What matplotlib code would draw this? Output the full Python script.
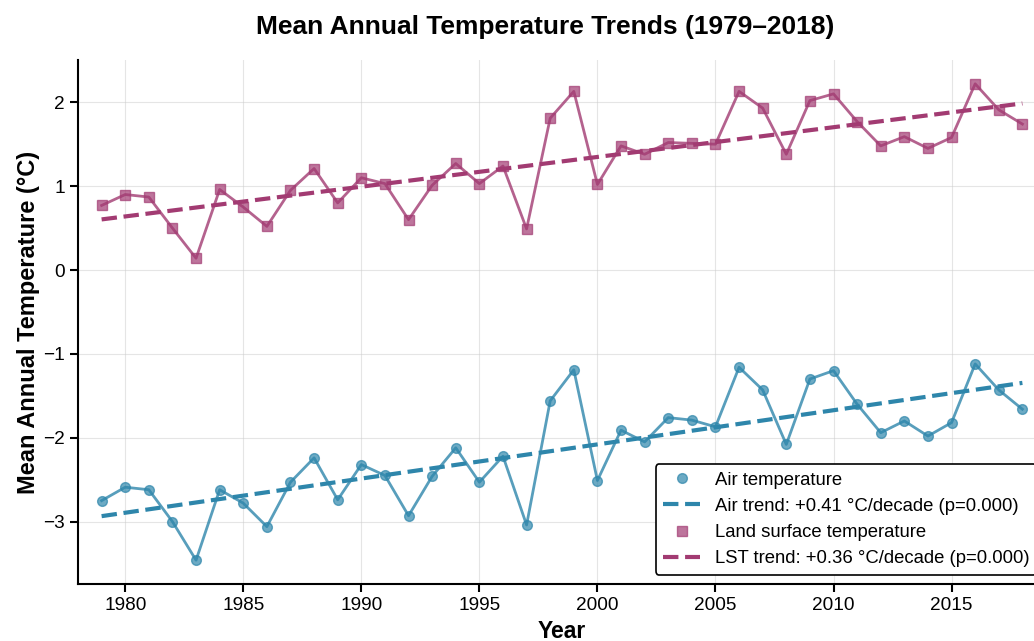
import numpy as np
import matplotlib
matplotlib.use('Agg')
import matplotlib.pyplot as plt

years = list(range(1979, 2019))

air_temp = [-2.75, -2.59, -2.62, -3.00, -3.46, -2.62, -2.78, -3.06, -2.53, -2.24,
            -2.74, -2.32, -2.45, -2.93, -2.46, -2.12, -2.53, -2.22, -3.04, -1.56,
            -1.19, -2.51, -1.91, -2.05, -1.76, -1.79, -1.87, -1.16, -1.43, -2.08,
            -1.30, -1.20, -1.60, -1.94, -1.80, -1.98, -1.82, -1.12, -1.43, -1.66]

lst_temp = [0.77, 0.90, 0.87, 0.50, 0.14, 0.96, 0.75, 0.52, 0.95, 1.21,
            0.80, 1.10, 1.03, 0.60, 1.01, 1.27, 1.03, 1.24, 0.49, 1.81,
            2.13, 1.02, 1.48, 1.38, 1.52, 1.51, 1.50, 2.13, 1.93, 1.38,
            2.02, 2.10, 1.77, 1.48, 1.59, 1.45, 1.58, 2.22, 1.91, 1.74]

air_trend_label = 'Air trend: +0.41 °C/decade (p=0.000)'
lst_trend_label = 'LST trend: +0.36 °C/decade (p=0.000)'

AIR_COLOR = '#2E86AB'
LST_COLOR = '#A23B72'

plt.rcParams['font.family'] = ['Liberation Sans', 'DejaVu Sans']


def draw_trends():
    """Air and land surface temperature with linear trends."""
    x = np.array(years)
    fig = plt.figure(figsize=(10.34, 6.41), dpi=100)
    ax = fig.add_axes([78 / 1034, 57 / 641, 968 / 1034, 524 / 641])

    # air temperature
    ax.plot(x, air_temp, '-', color=AIR_COLOR, lw=2, alpha=0.8)
    ax.plot(x, air_temp, 'o', color=AIR_COLOR, ms=7, alpha=0.7,
            label='Air temperature')
    fit = np.polyfit(x, air_temp, 1)
    ax.plot(x, np.polyval(fit, x), '--', color=AIR_COLOR, lw=3,
            label=air_trend_label)

    # land surface temperature
    ax.plot(x, lst_temp, '-', color=LST_COLOR, lw=2, alpha=0.8)
    ax.plot(x, lst_temp, 's', color=LST_COLOR, ms=7, alpha=0.7,
            label='Land surface temperature')
    fit = np.polyfit(x, lst_temp, 1)
    ax.plot(x, np.polyval(fit, x), '--', color=LST_COLOR, lw=3,
            label=lst_trend_label)

    ax.set_xlim(1978, 2019)
    ax.set_xticks(range(1980, 2019, 5))
    ax.set_yticks([-3, -2, -1, 0, 1, 2])
    ax.set_yticklabels(['\u22123', '\u22122', '\u22121', '0', '1', '2'])
    ax.tick_params(labelsize=13.7, width=1.5, length=6)
    ax.grid(True, color='#cccccc', alpha=0.5, lw=0.8)
    ax.set_axisbelow(True)
    for side in ['top', 'right']:
        ax.spines[side].set_visible(False)
    for side in ['left', 'bottom']:
        ax.spines[side].set_linewidth(1.5)

    ax.set_title('Mean Annual Temperature Trends (1979\u20132018)',
                 fontsize=19, fontweight='bold', pad=19, x=0.483)
    ax.set_xlabel('Year', fontsize=16.5, fontweight='bold', labelpad=4)
    ax.set_ylabel('Mean Annual Temperature (°C)', fontsize=17,
                  fontweight='bold', labelpad=2)

    leg = ax.legend(loc='lower right', fontsize=13.3, framealpha=1,
                    edgecolor='black', fancybox=True)
    leg.get_frame().set_linewidth(1.2)

    fig.savefig('out.png', dpi=100)


def main():
    draw_trends()


if __name__ == "__main__":
    main()
